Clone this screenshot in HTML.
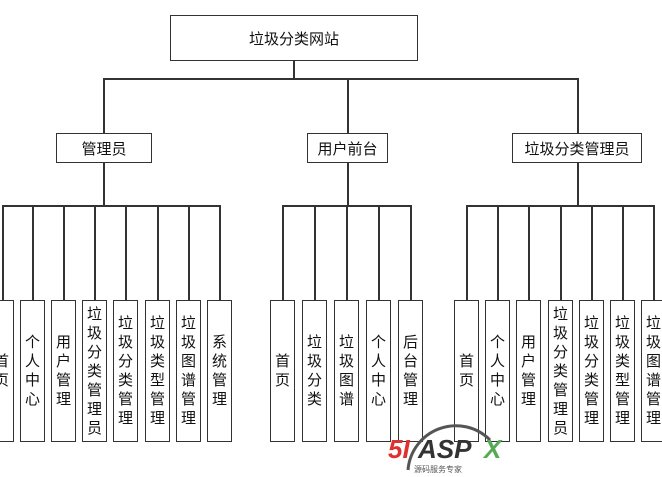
<!DOCTYPE html>
<html><head><meta charset="utf-8"><style>
body{margin:0;width:662px;height:477px;background:#fff;overflow:hidden;position:relative;font-family:"Liberation Sans","Noto Sans CJK SC",sans-serif;}
.b{position:absolute;border:1.5px solid #333;box-sizing:border-box;background:#fff;display:flex;align-items:center;justify-content:center;font-size:15px;color:#111;}
.v{position:absolute;top:300px;height:142px;width:25px;border:1.5px solid #333;box-sizing:border-box;background:#fff;display:flex;align-items:center;justify-content:center;font-size:15px;line-height:19px;text-align:center;color:#111;}
.h{position:absolute;height:1.5px;background:#333;}
.l{position:absolute;width:1.5px;background:#333;}
</style></head><body>
<div class="b" style="left:170px;top:15px;width:248px;height:46px;">垃圾分类网站</div>
<div class="l" style="left:293px;top:61px;height:18px"></div>
<div class="h" style="left:103px;top:78px;width:475px"></div>
<div class="l" style="left:103px;top:78px;height:55px"></div>
<div class="l" style="left:347px;top:78px;height:55px"></div>
<div class="l" style="left:577px;top:78px;height:55px"></div>
<div class="b" style="left:56px;top:133px;width:96px;height:30px;">管理员</div>
<div class="b" style="left:307px;top:133px;width:81px;height:30px;">用户前台</div>
<div class="b" style="left:512px;top:133px;width:130px;height:30px;">垃圾分类管理员</div>
<div class="l" style="left:103px;top:162px;height:44px"></div>
<div class="l" style="left:347px;top:162px;height:44px"></div>
<div class="l" style="left:577px;top:162px;height:44px"></div>
<div class="h" style="left:2px;top:205px;width:218px"></div>
<div class="h" style="left:282px;top:205px;width:129px"></div>
<div class="h" style="left:466px;top:205px;width:188px"></div>

<div class="l" style="left:2px;top:205px;height:95px"></div>
<div class="l" style="left:32px;top:205px;height:95px"></div>
<div class="l" style="left:63px;top:205px;height:95px"></div>
<div class="l" style="left:94px;top:205px;height:95px"></div>
<div class="l" style="left:125px;top:205px;height:95px"></div>
<div class="l" style="left:157px;top:205px;height:95px"></div>
<div class="l" style="left:188px;top:205px;height:95px"></div>
<div class="l" style="left:219px;top:205px;height:95px"></div>
<div class="l" style="left:282px;top:205px;height:95px"></div>
<div class="l" style="left:314px;top:205px;height:95px"></div>
<div class="l" style="left:346px;top:205px;height:95px"></div>
<div class="l" style="left:378px;top:205px;height:95px"></div>
<div class="l" style="left:410px;top:205px;height:95px"></div>
<div class="l" style="left:466px;top:205px;height:95px"></div>
<div class="l" style="left:497px;top:205px;height:95px"></div>
<div class="l" style="left:528px;top:205px;height:95px"></div>
<div class="l" style="left:560px;top:205px;height:95px"></div>
<div class="l" style="left:591px;top:205px;height:95px"></div>
<div class="l" style="left:622px;top:205px;height:95px"></div>
<div class="l" style="left:653px;top:205px;height:95px"></div>

<div class="v" style="left:-11px">首<br>页</div>
<div class="v" style="left:20px">个<br>人<br>中<br>心</div>
<div class="v" style="left:51px">用<br>户<br>管<br>理</div>
<div class="v" style="left:82px">垃<br>圾<br>分<br>类<br>管<br>理<br>员</div>
<div class="v" style="left:113px">垃<br>圾<br>分<br>类<br>管<br>理</div>
<div class="v" style="left:145px">垃<br>圾<br>类<br>型<br>管<br>理</div>
<div class="v" style="left:176px">垃<br>圾<br>图<br>谱<br>管<br>理</div>
<div class="v" style="left:207px">系<br>统<br>管<br>理</div>

<div class="v" style="left:270px">首<br>页</div>
<div class="v" style="left:302px">垃<br>圾<br>分<br>类</div>
<div class="v" style="left:334px">垃<br>圾<br>图<br>谱</div>
<div class="v" style="left:366px">个<br>人<br>中<br>心</div>
<div class="v" style="left:398px">后<br>台<br>管<br>理</div>

<div class="v" style="left:454px">首<br>页</div>
<div class="v" style="left:485px">个<br>人<br>中<br>心</div>
<div class="v" style="left:516px">用<br>户<br>管<br>理</div>
<div class="v" style="left:548px">垃<br>圾<br>分<br>类<br>管<br>理<br>员</div>
<div class="v" style="left:579px">垃<br>圾<br>分<br>类<br>管<br>理</div>
<div class="v" style="left:610px">垃<br>圾<br>类<br>型<br>管<br>理</div>
<div class="v" style="left:641px">垃<br>圾<br>图<br>谱<br>管<br>理</div>

<svg style="position:absolute;left:0;top:0" width="662" height="477">
<path d="M408 470 A48 48 0 0 1 490 440" fill="none" stroke="#555" stroke-width="3"/>
<text x="388" y="458" font-family="Liberation Sans" font-style="italic" font-weight="bold" font-size="26" fill="#e03030">5I</text>
<text x="418" y="458" font-family="Liberation Sans" font-style="italic" font-weight="bold" font-size="26" fill="#333">ASP</text>
<text x="484" y="458" font-family="Liberation Sans" font-style="italic" font-weight="bold" font-size="26" fill="#5a5">X</text>
<text x="414" y="472" font-family="Noto Sans CJK SC" font-size="8" fill="#555">源码服务专家</text>
</svg>
</body></html>
